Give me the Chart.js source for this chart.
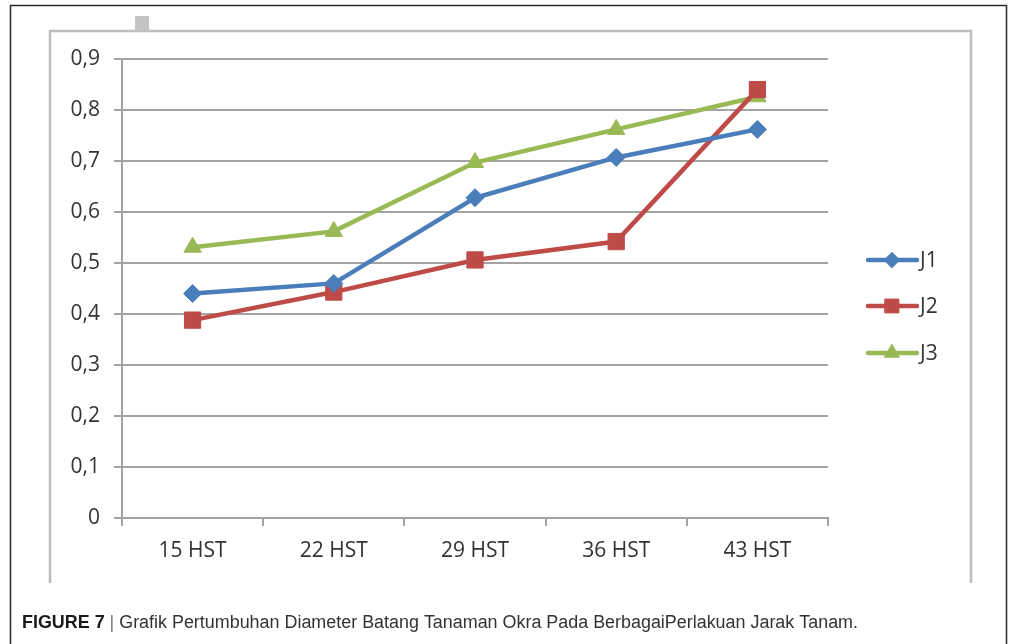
<!DOCTYPE html>
<html><head><meta charset="utf-8">
<script src="https://cdn.jsdelivr.net/npm/chart.js@4.4.0/dist/chart.umd.min.js"></script>
<style>html,body{margin:0;padding:0;background:#fff;overflow:hidden}#wrap{position:relative;width:1011px;height:644px}</style>
</head><body><div id="wrap"><canvas id="c" width="1011" height="644"></canvas></div>
<script>
const categories = ['15 HST', '22 HST', '29 HST', '36 HST', '43 HST'];
const seriesNames = ['J1', 'J2', 'J3'];
const seriesJ1 = [0.44, 0.46, 0.628, 0.707, 0.762];
const seriesJ2 = [0.388, 0.443, 0.506, 0.542, 0.84];
const seriesJ3 = [0.531, 0.562, 0.697, 0.762, 0.826];
const yMin = 0, yMax = 0.9, yStep = 0.1;
const captionBold = 'FIGURE 7';
const captionText = 'Grafik Pertumbuhan Diameter Batang Tanaman Okra Pada BerbagaiPerlakuan Jarak Tanam.';

const COLORS = ['#4a7ebb', '#be4b48', '#98b954'];
const STYLES = ['rectRot', 'rect', 'triangle'];
const RADII = [9, 11.5, 10];
const TICK_FONT = { family: '"Open Sans", sans-serif', size: 21 };
const GRID = '#a3a3a3';
const TEXT = '#333333';

const framePlugin = {
  id: 'frame',
  beforeDraw(chart) {
    const ctx = chart.ctx;
    ctx.save();
    ctx.fillStyle = '#fff';
    ctx.fillRect(0, 0, chart.width, chart.height);
    ctx.strokeStyle = '#2a2a2a';
    ctx.lineWidth = 1.5;
    ctx.beginPath();
    ctx.moveTo(10.5, 644); ctx.lineTo(10.5, 5.5); ctx.lineTo(1006.5, 5.5); ctx.lineTo(1006.5, 644);
    ctx.stroke();
    ctx.strokeStyle = '#bdbdbd';
    ctx.lineWidth = 2.5;
    ctx.beginPath();
    ctx.moveTo(50, 583); ctx.lineTo(50, 31); ctx.lineTo(971, 31); ctx.lineTo(971, 583);
    ctx.stroke();
    ctx.fillStyle = '#c4c4c4';
    ctx.fillRect(135, 16, 14, 15);
    ctx.restore();
  },
  afterDraw(chart) {
    const ctx = chart.ctx;
    ctx.save();
    const ys = [260, 306, 353];
    chart.data.datasets.forEach((ds, i) => {
      const y = ys[i];
      ctx.strokeStyle = ds.borderColor;
      ctx.lineWidth = 4.5;
      ctx.lineCap = 'round';
      ctx.beginPath();
      ctx.moveTo(868, y); ctx.lineTo(917, y);
      ctx.stroke();
      ctx.fillStyle = ds.pointBackgroundColor;
      ctx.strokeStyle = ds.pointBorderColor;
      ctx.lineWidth = 1;
      Chart.helpers.drawPoint(ctx, { pointStyle: ds.pointStyle, radius: ds.pointRadius * 0.85, rotation: 0, borderWidth: 1 }, 892, y);
      ctx.fillStyle = TEXT;
      ctx.font = '21px "Open Sans", sans-serif';
      ctx.textBaseline = 'middle';
      ctx.textAlign = 'left';
      ctx.fillText(ds.label, 920, y + 1);
    });
    const boldFont = 'bold 18px "Liberation Sans", Arial, sans-serif';
    const normFont = '18px "Liberation Sans", Arial, sans-serif';
    ctx.font = boldFont;
    const wb = ctx.measureText(captionBold + ' ').width;
    ctx.font = normFont;
    const ws = ctx.measureText('| ').width;
    const wt = ctx.measureText(captionText).width;
    const total = wb + ws + wt;
    const sx = (858 - 22) / total;
    ctx.translate(22, 628);
    ctx.scale(sx, 1);
    ctx.textBaseline = 'alphabetic';
    ctx.textAlign = 'left';
    ctx.font = boldFont;
    ctx.fillStyle = '#1a1a1a';
    ctx.fillText(captionBold, 0, 0);
    ctx.font = normFont;
    ctx.fillStyle = '#777';
    ctx.fillText('|', wb, 0);
    ctx.fillStyle = '#333';
    ctx.fillText(captionText, wb + ws, 0);
    ctx.restore();
  }
};

const values = [seriesJ1, seriesJ2, seriesJ3];
const datasets = seriesNames.map((name, i) => ({
  label: name,
  data: values[i],
  borderColor: COLORS[i],
  backgroundColor: COLORS[i],
  pointBackgroundColor: COLORS[i],
  pointBorderColor: COLORS[i],
  pointStyle: STYLES[i],
  pointRadius: RADII[i],
  pointBorderWidth: 1,
  borderWidth: 4.5,
  tension: 0,
  fill: false
}));

new Chart(document.getElementById('c'), {
  type: 'line',
  data: { labels: categories, datasets },
  plugins: [framePlugin],
  options: {
    responsive: false,
    animation: false,
    devicePixelRatio: 1,
    layout: { padding: { left: 0, top: 59, right: 183, bottom: 0 } },
    plugins: { legend: { display: false }, tooltip: { enabled: false } },
    scales: {
      x: {
        offset: true,
        afterFit: s => { s.height = 126; },
        grid: { display: true, offset: true, drawOnChartArea: false, drawTicks: true, tickLength: 8, color: GRID, lineWidth: 2 },
        border: { display: true, color: GRID, width: 2 },
        ticks: { color: TEXT, font: TICK_FONT, padding: 12 }
      },
      y: {
        min: yMin, max: yMax,
        afterFit: s => { s.width = 122; },
        grid: { display: true, drawTicks: true, tickLength: 8, color: GRID, lineWidth: 2 },
        border: { display: true, color: GRID, width: 2 },
        ticks: {
          stepSize: yStep, color: TEXT, font: TICK_FONT, padding: 14,
          callback: v => { const r = Math.round(v * 10) / 10; return r === 0 ? '0' : r.toFixed(1).replace('.', ','); }
        }
      }
    }
  }
});
</script></body></html>
